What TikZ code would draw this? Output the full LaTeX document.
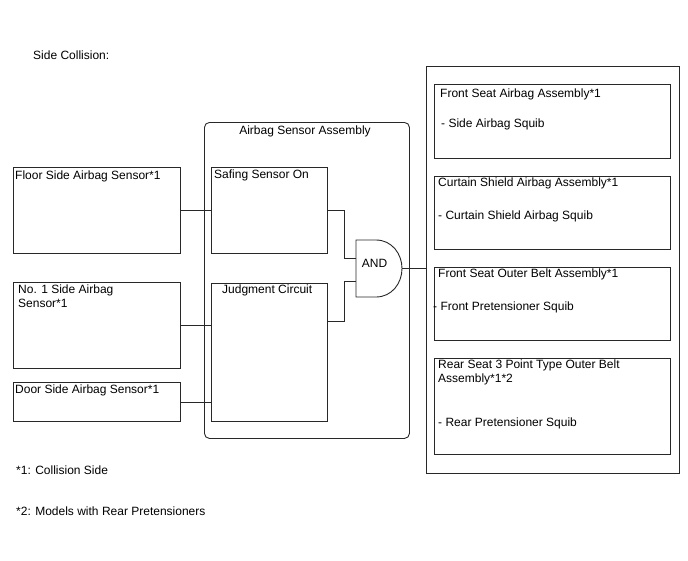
\documentclass[tikz,border=0pt]{standalone}
\usepackage{fontspec}
\setmainfont{Liberation Sans}
\usetikzlibrary{positioning}
\definecolor{boxline}{RGB}{40,40,40}
\tikzset{
    unitbox/.style={draw=boxline, line width=0.9pt, anchor=north west, inner sep=0pt},
    assybox/.style={unitbox, rounded corners=5pt},
    wire/.style={draw=boxline, line width=0.9pt},
    note/.style={font=\fontsize{12}{14}\selectfont, inner sep=0pt, anchor=base west, align=left}
}
\begin{document}
\begin{tikzpicture}[x=1pt,y=-1pt]
    \useasboundingbox (0,0) rectangle (688,560);
    % Title
    \node[note] (title) at (33,59) {Side Collision:};

    % Sensors on the left
    \node[unitbox, minimum width=167pt, minimum height=86pt] (floorsensor) at (13,167) {};
    \node[unitbox, minimum width=167pt, minimum height=86pt] (noonesensor) at (13,282) {};
    \node[unitbox, minimum width=167pt, minimum height=39pt] (doorsensor)  at (13,382) {};
    \node[note] (floortext) at (15,179) {Floor Side Airbag Sensor*1};
    \node[note] (noonetext) at (18,307) {No. 1 Side Airbag\\Sensor*1};
    \node[note] (doortext)  at (15,393) {Door Side Airbag Sensor*1};

    % Airbag sensor assembly
    \node[assybox, minimum width=205pt, minimum height=316pt] (sensorassy) at (204,122) {};
    \node[note, anchor=base] (assytext) at (305,134) {Airbag Sensor Assembly};
    \node[unitbox, minimum width=116pt, minimum height=86pt]  (safing)   at (211,167) {};
    \node[unitbox, minimum width=116pt, minimum height=138pt] (judgment) at (211,283) {};
    \node[note] (safingtext)   at (214,178) {Safing Sensor On};
    \node[note] (judgmenttext) at (222,293) {Judgment Circuit};

    % AND gate
    \draw[wire, fill=white] (356,240) -- (376,240)
        .. controls (392,240) and (402,254) .. (402,268.5)
        .. controls (402,283) and (392,297) .. (376,297) -- (356,297) -- cycle;
    \coordinate (andin1) at (356,258);
    \coordinate (andin2) at (356,281);
    \coordinate (andout) at (402,268.5);
    \node[note, anchor=base] (andtext) at (374.5,267) {AND};

    % Squibs on the right
    \node[unitbox, minimum width=253pt, minimum height=407pt] (outerbox) at (426,66) {};
    \node[unitbox, minimum width=236pt, minimum height=74pt] (frontseat) at (434,84) {};
    \node[unitbox, minimum width=236pt, minimum height=73pt] (curtain)   at (434,176) {};
    \node[unitbox, minimum width=236pt, minimum height=73pt] (frontbelt) at (434,267) {};
    \node[unitbox, minimum width=236pt, minimum height=96pt] (rearbelt)  at (434,358) {};
    \node[note] (frontseattext)  at (440,97)  {Front Seat Airbag Assembly*1};
    \node[note] (frontseatsquib) at (441,127) {- Side Airbag Squib};
    \node[note] (curtaintext)    at (438,186) {Curtain Shield Airbag Assembly*1};
    \node[note] (curtainsquib)   at (438,219) {- Curtain Shield Airbag Squib};
    \node[note] (frontbelttext)  at (438,277) {Front Seat Outer Belt Assembly*1};
    \node[note] (frontbeltsquib) at (433,310) {- Front Pretensioner Squib};
    \node[note] (rearbelttext)   at (438,382) {Rear Seat 3 Point Type Outer Belt\\Assembly*1*2};
    \node[note] (rearbeltsquib)  at (438,426) {- Rear Pretensioner Squib};

    % Wires
    \draw[wire] (floorsensor.east) -- (floorsensor.east -| safing.west);
    \draw[wire] (noonesensor.east) -- (noonesensor.east -| judgment.west);
    \draw[wire] (doorsensor.east) -- (doorsensor.east -| judgment.west);
    \draw[wire] (safing.east) -- ++(17,0) |- (andin1);
    \draw[wire] ([yshift=31pt]judgment.east) -- ++(17,0) |- (andin2);
    \draw[wire] (andout) -- (andout -| outerbox.west);

    % Footnotes
    \node[note] (noteone) at (16,474) {*1: Collision Side};
    \node[note] (notetwo) at (16,515) {*2: Models with Rear Pretensioners};
\end{tikzpicture}
\end{document}
